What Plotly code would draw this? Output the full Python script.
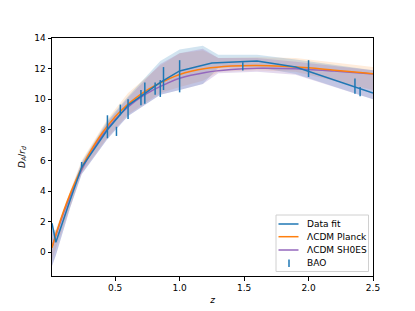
import plotly.graph_objects as go

# ---- data ----
fit_z = [0.01, 0.04, 0.15, 0.24, 0.44, 0.60, 0.85, 1.00, 1.25, 1.60, 1.90, 2.50]
fit_y = [1.9, 0.65, 3.4, 5.55, 8.0, 9.6, 11.1, 11.85, 12.37, 12.5, 12.1, 10.4]

band_z = [0.01, 0.04, 0.15, 0.24, 0.44, 0.60, 0.85, 1.00, 1.18, 1.30, 1.60, 1.90, 2.50]
fit_hi = [1.6, 1.4, 3.9, 5.9, 8.6, 10.2, 12.5, 13.25, 13.5, 12.9, 12.9, 12.6, 11.9]
fit_lo = [-0.9, -0.2, 2.9, 5.1, 7.4, 8.9, 10.3, 10.6, 11.0, 12.05, 12.1, 11.65, 10.0]
sh0es_hi = [1.4, 1.3, 3.8, 5.8, 8.5, 10.1, 12.3, 13.0, 13.3, 12.7, 12.7, 12.45, 11.9]
sh0es_lo = [-0.9, -0.2, 2.9, 5.1, 7.4, 8.9, 10.3, 10.6, 11.0, 11.7, 11.8, 11.6, 10.0]
planck_hi = [0.9, 1.5, 4.0, 6.0, 8.7, 10.4, 12.2, 13.0, 13.2, 12.7, 12.75, 12.7, 12.1]
planck_lo = [-0.5, 0.2, 3.0, 5.2, 7.5, 9.0, 10.4, 10.8, 11.2, 11.8, 11.9, 11.8, 10.6]

model_z = [0.01, 0.05, 0.1, 0.15, 0.2, 0.25, 0.3, 0.4, 0.5, 0.6, 0.7, 0.8, 0.9, 1.0,
           1.2, 1.4, 1.6, 1.8, 2.0, 2.2, 2.4, 2.5]
planck_y = [0.30, 1.42, 2.68, 3.80, 4.79, 5.68, 6.47, 7.79, 8.85, 9.68, 10.34, 10.86,
            11.26, 11.62, 12.00, 12.17, 12.21, 12.16, 12.05, 11.89, 11.74, 11.66]
sh0es_y = [0.35, 1.36, 2.58, 3.68, 4.67, 5.55, 6.34, 7.64, 8.68, 9.49, 10.13, 10.63,
           11.02, 11.37, 11.75, 11.94, 12.02, 12.01, 11.95, 11.84, 11.72, 11.65]

bao_z = [0.24, 0.44, 0.51, 0.54, 0.60, 0.70, 0.73, 0.81, 0.85, 0.875, 1.00, 1.49, 2.00, 2.36, 2.40]
bao_y = [5.7, 8.2, 7.9, 9.3, 9.35, 10.1, 10.4, 10.7, 10.7, 11.35, 11.5, 12.15, 12.0, 10.85, 10.5]
bao_err = [0.2, 0.75, 0.3, 0.35, 0.65, 0.5, 0.7, 0.4, 0.55, 0.75, 1.05, 0.27, 0.55, 0.5, 0.3]

legend_labels = ["Data fit", "ΛCDM Planck", "ΛCDM SH0ES", "BAO"]

C0, C1, C4 = "#1f77b4", "#ff7f0e", "#9467bd"
FONT = "DejaVu Sans"

fig = go.Figure()

def band(z, lo, hi, color):
    fig.add_trace(go.Scatter(x=z + z[::-1], y=hi + lo[::-1], fill="toself",
                             fillcolor=color, line=dict(width=0), mode="lines",
                             showlegend=False, hoverinfo="skip"))

band(band_z, planck_lo, planck_hi, "rgba(255,127,14,0.15)")
band(band_z, fit_lo, fit_hi, "rgba(31,119,180,0.2)")
band(band_z, sh0es_lo, sh0es_hi, "rgba(148,103,189,0.25)")

fig.add_trace(go.Scatter(x=model_z, y=sh0es_y, mode="lines",
                         line=dict(color=C4, width=1.5, shape="spline"), showlegend=False))
fig.add_trace(go.Scatter(x=model_z, y=planck_y, mode="lines",
                         line=dict(color=C1, width=1.5, shape="spline"), showlegend=False))
fig.add_trace(go.Scatter(x=fit_z, y=fit_y, mode="lines", line=dict(color=C0, width=1.5),
                         showlegend=False))
fig.add_trace(go.Scatter(x=bao_z, y=bao_y, mode="markers", marker=dict(size=1, color="rgba(0,0,0,0)"),
                         error_y=dict(type="data", array=bao_err, width=0, thickness=1.5, color=C0),
                         showlegend=False, hoverinfo="skip"))

axis_common = dict(showline=True, linecolor="black", linewidth=1, mirror=True, ticks="outside",
                   ticklen=3.5, tickcolor="black", showgrid=False, zeroline=False, automargin=False,
                   tickfont=dict(family=FONT, size=9, color="black"))

fig.update_xaxes(range=[0.01, 2.5], tickvals=[0.5, 1.0, 1.5, 2.0, 2.5],
                 ticktext=["0.5", "1.0", "1.5", "2.0", "2.5"],
                 title=dict(text="<i>z</i>", font=dict(family=FONT, size=9, color="black"), standoff=4),
                 **axis_common)
fig.update_yaxes(range=[-1.55, 14], tickvals=[0, 2, 4, 6, 8, 10, 12, 14],
                 title=dict(text="<i>D</i><sub><i>A</i></sub>/<i>r</i><sub><i>d</i></sub>",
                            font=dict(family=FONT, size=9, color="black"), standoff=7),
                 **axis_common)

# ---- hand-built legend (matplotlib style) ----
L, R, T, B = 52, 373, 38, 276
def px(x): return (x - L) / (R - L)
def py(y): return (B - y) / (B - T)

shapes = [dict(type="rect", xref="paper", yref="paper", x0=px(276), x1=px(368.5), y0=py(271.5), y1=py(215),
               line=dict(color="#d0d0d0", width=1), fillcolor="rgba(255,255,255,0.8)", layer="above")]
row_y = [224, 236.7, 250, 263.3]
line_colors = [C0, C1, C4]
for i, col in enumerate(line_colors):
    shapes.append(dict(type="line", xref="paper", yref="paper", x0=px(278.5), x1=px(298.5),
                       y0=py(row_y[i]), y1=py(row_y[i]), line=dict(color=col, width=1.5), layer="above"))
shapes.append(dict(type="line", xref="paper", yref="paper", x0=px(289), x1=px(289),
                   y0=py(row_y[3] - 3.8), y1=py(row_y[3] + 3.8), line=dict(color=C0, width=1.5), layer="above"))
annotations = [dict(text=lab, xref="paper", yref="paper", x=px(304.5), y=py(row_y[i]),
                    xanchor="left", yanchor="middle", showarrow=False,
                    font=dict(family=FONT, size=9, color="black"))
               for i, lab in enumerate(legend_labels)]

fig.update_layout(
    width=415, height=311,
    margin=dict(l=L, r=415 - R, t=T, b=311 - B, autoexpand=False),
    paper_bgcolor="white", plot_bgcolor="white",
    showlegend=False, shapes=shapes, annotations=annotations,
)

fig.write_html("out.html", config={"displayModeBar": False},
               post_script="document.body.style.margin='0';document.body.style.overflow='hidden';")
